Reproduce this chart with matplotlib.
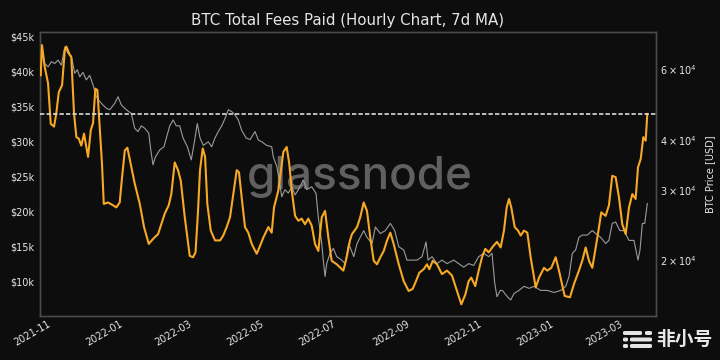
import numpy as np
import pandas as pd
import matplotlib
matplotlib.use("Agg")
import matplotlib.pyplot as plt
import matplotlib.dates as mdates
from matplotlib.patches import FancyBboxPatch

# ---------------- data ----------------
BASE_DATE = "2021-11-01"

# Total fees paid (7d MA), USD thousands; day offsets from BASE_DATE
fee_days = [-9.6, -8.5, -6.2, -3.4, -1.1, 1.7, 3.6, 5.7, 8.5, 10.8, 12.1, 15.0, 16.3, 18.6,
            20.6, 22.6, 24.8, 27.1, 28.5, 30.5, 32.8, 34.7, 36.7, 38.4, 40.4, 42.3, 43.8,
            47.4, 51.7, 54.4, 57.3, 59.3, 61.6, 63.8, 66.6, 70.0, 74.3, 77.9, 81.9, 85.5,
            89.8, 92.5, 95.4, 98.8, 101.0, 103.9, 106.7, 109.0, 112.4, 116.6, 119.4, 121.5,
            123.6, 125.3, 127.6, 129.6, 131.5, 134.4, 138.0, 142.3, 145.0, 147.9, 150.7,
            153.5, 156.4, 158.3, 160.6, 163.4, 166.2, 169.1, 173.3, 176.1, 178.9, 183.2,
            186.0, 188.0, 191.6, 195.9, 198.7, 200.9, 203.0, 205.8, 208.6, 211.4, 214.2,
            217.0, 219.9, 222.7, 225.5, 228.4, 231.2, 234.0, 236.8, 241.1, 246.7, 249.5,
            252.3, 254.0, 258.3, 261.0, 263.9, 266.7, 269.5, 272.4, 275.2, 278.0, 280.9,
            283.7, 286.5, 289.3, 293.6, 297.8, 302.0, 305.4, 308.2, 311.0, 314.7, 317.5,
            319.5, 322.4, 326.0, 330.2, 334.5, 338.7, 342.9, 346.6, 350.0, 352.8, 355.0,
            358.4, 361.3, 364.1, 366.9, 369.8, 373.2, 376.8, 379.9, 382.7, 385.0, 387.0,
            388.9, 391.8, 394.6, 396.9, 399.7, 402.5, 405.3, 409.6, 412.4, 416.6, 419.4,
            422.8, 426.5, 429.3, 434.1, 438.6, 442.0, 446.2, 449.0, 451.9, 454.7, 457.5,
            460.4, 463.2, 465.1, 468.8, 471.6, 474.4, 477.3, 480.1, 482.9, 485.8, 488.6,
            491.4, 494.2, 496.2, 498.5, 500.7, 502.7, 504.1]
fee_k = [39.4, 43.7, 40.6, 38.3, 32.5, 32.1, 34.0, 37.0, 38.0, 43.0, 43.5, 42.3, 42.0, 34.0,
         30.6, 30.4, 29.4, 31.1, 29.7, 27.8, 31.6, 32.6, 37.5, 37.3, 32.0, 26.8, 21.1,
         21.3, 20.9, 20.6, 21.3, 24.9, 28.7, 29.1, 26.8, 24.0, 21.1, 17.8, 15.4, 16.1,
         16.8, 18.2, 19.7, 20.9, 22.5, 27.0, 25.9, 24.4, 19.2, 13.7, 13.5, 14.2,
         20.0, 25.9, 29.0, 27.8, 21.1, 17.3, 15.9, 15.9, 16.6, 17.8, 19.2,
         22.5, 25.9, 25.6, 22.0, 17.8, 17.0, 15.4, 14.0, 15.1, 16.3, 17.8,
         17.0, 20.6, 23.0, 28.5, 29.2, 26.8, 23.0, 19.4, 18.7, 19.0, 18.2,
         19.0, 18.0, 15.4, 14.4, 19.2, 20.1, 16.3, 13.0, 12.5, 11.6, 13.5,
         15.9, 16.8, 17.8, 19.2, 21.3, 20.1, 16.3, 13.0, 12.5, 13.5, 14.4,
         15.9, 17.0, 15.4, 12.5, 10.1, 8.7, 9.0, 10.1, 11.3, 11.8, 12.5,
         11.8, 13.0, 12.5, 11.1, 11.6, 10.9, 8.7, 6.8, 8.2, 10.1, 10.6,
         9.4, 11.6, 13.5, 14.7, 14.2, 15.0, 15.7, 14.9, 17.3, 20.6, 21.8,
         20.6, 17.8, 17.3, 16.6, 17.3, 17.0, 13.5, 9.2, 10.6, 12.0, 11.6,
         12.0, 13.5, 11.6, 8.0, 7.8, 9.7, 11.6, 13.0, 14.9, 13.0, 12.0,
         14.9, 17.8, 19.9, 19.4, 20.9, 25.1, 24.9, 22.0, 18.2, 16.8, 20.6,
         22.5, 21.8, 26.3, 27.5, 30.6, 30.1, 33.9]

# BTC price, USD thousands; day offsets from BASE_DATE
price_days = [-9.6, -8.5, -6.2, -3.4, -0.6, 2.3, 5.1, 7.9, 10.8, 13.5, 16.3, 19.2, 21.4, 23.5,
              26.2, 29.0, 31.9, 34.7, 37.5, 40.4, 43.2, 46.0, 48.9, 53.1, 55.9, 58.7, 62.9,
              67.1, 70.0, 72.8, 75.6, 78.5, 81.9, 83.6, 85.5, 87.5, 91.2, 94.8, 96.8, 99.7,
              102.5, 105.2, 108.1, 110.9, 114.6, 117.9, 120.8, 123.0, 125.3, 128.1, 132.3,
              135.2, 138.0, 140.8, 143.7, 146.5, 149.3, 152.2, 155.0, 157.7, 160.6, 164.3,
              167.7, 171.9, 174.7, 177.6, 181.8, 186.0, 187.4, 190.3, 192.5, 194.5, 197.3,
              200.1, 203.0, 205.8, 208.6, 212.8, 215.7, 219.9, 223.5, 225.5, 228.4, 229.7,
              231.2, 232.6, 235.4, 238.2, 241.1, 245.3, 248.1, 251.2, 255.5, 258.3, 261.0,
              263.9, 266.7, 271.0, 273.8, 278.0, 282.2, 286.5, 290.2, 293.6, 297.8, 300.6,
              304.8, 309.1, 313.3, 316.7, 318.4, 321.8, 326.0, 330.2, 334.5, 340.1, 344.4,
              348.6, 352.8, 357.1, 361.3, 365.5, 369.8, 372.6, 374.9, 376.8, 379.6, 381.3,
              385.6, 388.4, 391.2, 395.4, 399.7, 403.9, 408.1, 413.8, 419.4, 425.1, 430.7,
              435.0, 437.8, 440.6, 443.4, 446.2, 449.0, 453.3, 457.5, 460.4, 464.6, 468.8,
              471.6, 474.4, 477.3, 480.9, 484.4, 488.6, 492.8, 496.2, 497.9, 499.9, 501.9,
              504.1]
price_k = [63.0, 65.7, 62.0, 60.8, 62.6, 62.0, 63.2, 61.4, 68.2, 65.7, 64.8, 58.6, 59.8, 57.4,
           58.9, 56.4, 57.9, 54.8, 51.2, 49.8, 48.8, 47.9, 47.5, 49.3, 51.2, 48.8, 47.5,
           46.5, 42.7, 41.9, 43.3, 42.7, 41.5, 37.7, 34.6, 36.2, 37.7, 38.4, 40.4, 43.3,
           44.8, 43.3, 43.3, 40.4, 38.4, 35.6, 39.9, 43.9, 40.4, 38.7, 39.5,
           38.4, 40.4, 41.9, 43.3, 45.2, 47.5, 47.0, 46.1, 44.8, 42.2, 40.4,
           40.0, 41.9, 39.9, 39.5, 38.7, 38.4, 36.2, 34.3, 31.7, 28.8, 30.0,
           29.4, 30.5, 29.1, 30.0, 31.7, 30.0, 30.5, 29.4, 25.6, 22.0, 20.0,
           18.2, 19.6, 20.8, 21.4, 20.4, 20.0, 19.6, 22.0, 20.4, 22.0, 22.8,
           23.7, 22.8, 22.0, 24.2, 23.3, 23.7, 24.7, 23.7, 21.6, 21.2, 20.0,
           20.0, 20.0, 20.4, 22.2, 20.0, 20.4, 19.6, 20.0, 19.6, 20.0, 19.6,
           19.2, 19.6, 19.4, 20.4, 20.8, 20.4, 20.8, 17.5, 16.2, 16.8, 16.8,
           16.2, 15.9, 16.5, 16.8, 17.2, 17.0, 17.2, 16.8, 16.8, 16.6, 16.8,
           17.2, 18.2, 20.8, 21.2, 22.8, 23.1, 23.1, 23.7, 23.3, 22.8, 22.0,
           22.4, 24.7, 24.9, 23.7, 23.7, 22.4, 22.4, 20.0, 21.2, 24.7, 24.7,
           27.7]

latest_fee_k = 33.9
fee_ticks_k = [10, 15, 20, 25, 30, 35, 40, 45]
fee_tick_labels = ["$10k", "$15k", "$20k", "$25k", "$30k", "$35k", "$40k", "$45k"]

title = "BTC Total Fees Paid (Hourly Chart, 7d MA)"
right_label = "BTC Price [USD]"

# ---------------- styling ----------------
BG = "#0d0d0d"
TXT = "#e6e6e6"
ORANGE = "#f7a824"
GREY = "#9b9b9b"
SPINE = "#4a4a4a"

base = pd.Timestamp(BASE_DATE)
fee_dates = base + pd.to_timedelta(fee_days, unit="D")
price_dates = base + pd.to_timedelta(price_days, unit="D")
fee_vals = np.array(fee_k) * 1000
price_vals = np.array(price_k) * 1000

fig = plt.figure(figsize=(7.2, 3.6), dpi=100, facecolor=BG)
ax2 = fig.add_axes([40 / 720, 1 - 316 / 360, (655.7 - 40) / 720, (316 - 32) / 360])
ax = ax2.twinx()
# left axis (fees) drawn on top, price axis on the right
ax.yaxis.tick_left()
ax.yaxis.set_label_position("left")
ax2.yaxis.tick_right()
ax2.yaxis.set_label_position("right")
ax2.set_facecolor(BG)
ax.patch.set_visible(False)

# watermark (centred on the figure)
ax2.text(360 / 720, 1 - 177 / 360, "glassnode", transform=fig.transFigure, ha="center",
         va="center", fontsize=33, color="#606060", family="Inter", fontweight=500, zorder=0)

ax2.plot(price_dates, price_vals, color=GREY, lw=0.8, zorder=2)
ax2.set_yscale("log")
ax2.set_ylim(14500, 74300)

ax.plot(fee_dates, fee_vals, color=ORANGE, lw=1.5, zorder=3)
ax.axhline(latest_fee_k * 1000, color="#dcdcdc", lw=1.2, linestyle=(0, (2.6, 1.3)), zorder=4)
ax.set_ylim(5140, 45570)
ax.set_yticks([v * 1000 for v in fee_ticks_k])
ax.set_yticklabels(fee_tick_labels)

xl = (base + pd.Timedelta(days=-10.2), base + pd.Timedelta(days=511.2))
ax.set_xlim(xl)
ax2.set_xlim(xl)
ax2.xaxis.set_major_locator(mdates.MonthLocator(bymonth=[1, 3, 5, 7, 9, 11]))
ax2.xaxis.set_major_formatter(mdates.DateFormatter("%Y-%m"))
for lab in ax2.get_xticklabels():
    lab.set_rotation(30)
    lab.set_ha("right")

for a in (ax, ax2):
    a.tick_params(axis="both", which="both", length=0, labelsize=7, colors=TXT)
    for s in a.spines.values():
        s.set_color(SPINE)
        s.set_linewidth(1.0)
ax.tick_params(axis="y", pad=4)
ax2.tick_params(axis="y", pad=3)
ax2.tick_params(axis="x", pad=2)

ax2.set_ylabel(right_label, color=TXT, fontsize=7, labelpad=6)
fig.text(347.8 / 720, 1 - 20 / 360, title, ha="center", va="center", color=TXT, fontsize=10.8)

# 非小号 badge (bottom right)
def px(x, y):
    return x / 720, 1 - y / 360

bars = [(623, 331, 19, 4), (645, 331, 7, 4), (623, 337.5, 5, 4), (630, 337.5, 22, 4),
        (623, 344, 5, 4), (630, 344, 22, 4)]
for (bx, by, bw, bh) in bars:
    x0, y0 = px(bx, by + bh)
    fig.patches.append(FancyBboxPatch((x0, y0), bw / 720, bh / 360,
                                      boxstyle="round,pad=0,rounding_size=0.003",
                                      transform=fig.transFigure, facecolor="#e4e4e4",
                                      edgecolor="none", figure=fig))
fig.text(656 / 720, 1 - 339.5 / 360, "非小号", ha="left", va="center", color="#e8e8e8",
         fontsize=13.5, fontweight="bold", family=["Noto Sans CJK SC", "DejaVu Sans"])

fig.savefig("out.png", dpi=100, facecolor=BG)
